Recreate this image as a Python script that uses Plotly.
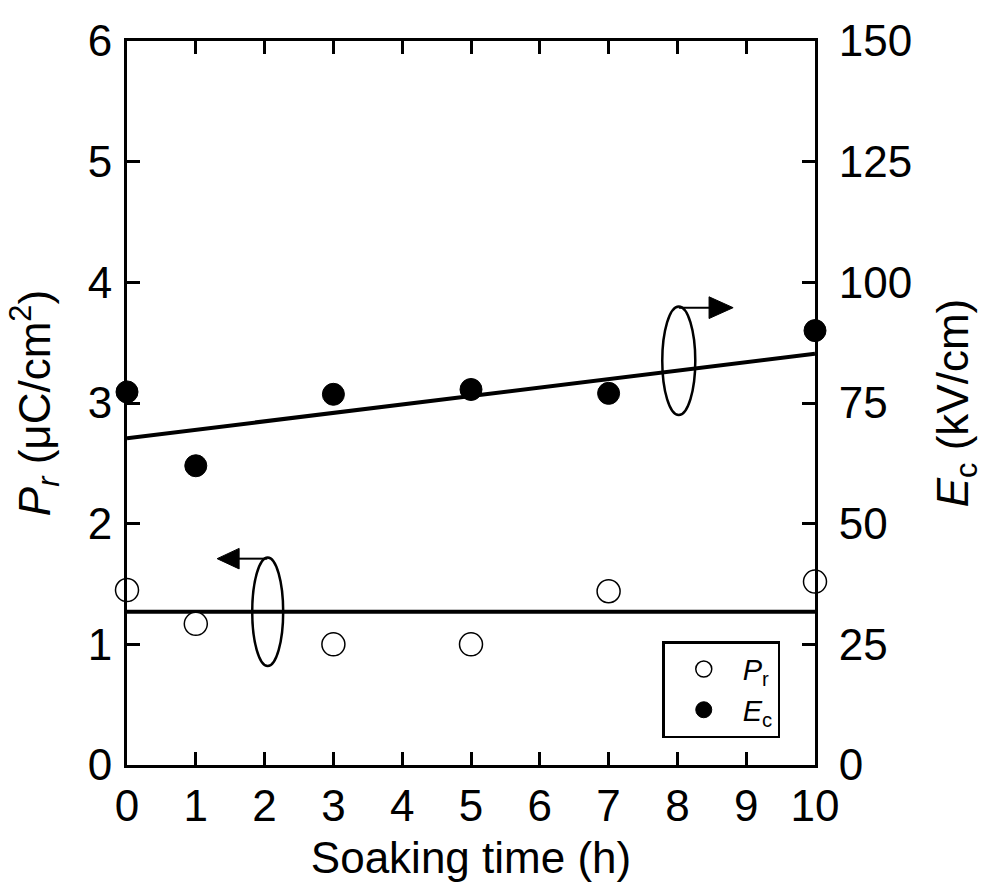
import plotly.graph_objects as go

# Data
soak_time = [0, 1, 3, 5, 7, 10]
pr_values = [1.45, 1.17, 1.00, 1.00, 1.44, 1.52]      # µC/cm2 (left axis)
ec_values = [77.3, 62.0, 76.8, 77.8, 77.0, 90.0]      # kV/cm (right axis)

fit_x = [0, 10]
pr_fit = [1.27, 1.27]
ec_fit = [67.7, 85.2]

x_ticks = list(range(0, 11))
left_ticks = [0, 1, 2, 3, 4, 5, 6]
right_ticks = [0, 25, 50, 75, 100, 125, 150]

FONT = "Liberation Sans, Arial, sans-serif"
FS = 44

fig = go.Figure()

fig.add_trace(go.Scatter(x=fit_x, y=pr_fit, mode="lines",
                         line=dict(color="black", width=4),
                         showlegend=False, yaxis="y", hoverinfo="skip"))
fig.add_trace(go.Scatter(x=fit_x, y=ec_fit, mode="lines",
                         line=dict(color="black", width=4),
                         showlegend=False, yaxis="y2", hoverinfo="skip"))

fig.add_trace(go.Scatter(x=soak_time, y=pr_values, mode="markers",
                         name="<i>P</i><sub>r</sub>",
                         marker=dict(symbol="circle", size=23, color="white",
                                     line=dict(color="black", width=1.5)),
                         cliponaxis=False, yaxis="y"))
fig.add_trace(go.Scatter(x=soak_time, y=ec_values, mode="markers",
                         name="<i>E</i><sub>c</sub>",
                         marker=dict(symbol="circle", size=22, color="black",
                                     line=dict(color="black", width=1)),
                         cliponaxis=False, yaxis="y2"))

shapes = []
# upper ellipse + arrow to the right
shapes.append(dict(type="circle", xref="x", yref="y", x0=7.78, x1=8.26, y0=2.90, y1=3.80,
                   line=dict(color="black", width=2.5)))
shapes.append(dict(type="line", xref="x", yref="y", x0=8.02, x1=8.48, y0=3.79, y1=3.79,
                   line=dict(color="black", width=2)))
shapes.append(dict(type="path", xref="x", yref="y",
                   path="M 8.46 3.88 L 8.81 3.79 L 8.46 3.70 Z",
                   fillcolor="black", line=dict(color="black", width=1)))
# lower ellipse + arrow to the left
shapes.append(dict(type="circle", xref="x", yref="y", x0=1.82, x1=2.27, y0=0.82, y1=1.72,
                   line=dict(color="black", width=2.5)))
shapes.append(dict(type="line", xref="x", yref="y", x0=2.04, x1=1.61, y0=1.71, y1=1.71,
                   line=dict(color="black", width=2)))
shapes.append(dict(type="path", xref="x", yref="y",
                   path="M 1.63 1.795 L 1.31 1.71 L 1.63 1.625 Z",
                   fillcolor="black", line=dict(color="black", width=1)))

fig.update_layout(
    width=984, height=890,
    margin=dict(l=127, r=169, t=41, b=125),
    paper_bgcolor="white", plot_bgcolor="white",
    font=dict(family=FONT, size=FS, color="black"),
    shapes=shapes,
    showlegend=True,
    legend=dict(x=0.778, y=0.171, xanchor="left", yanchor="top",
                bordercolor="black", borderwidth=2.5, bgcolor="white",
                font=dict(family=FONT, size=29, color="black"),
                itemsizing="trace", itemwidth=68, tracegroupgap=0),
    xaxis=dict(range=[0, 10], tickvals=x_ticks, ticktext=[str(v) for v in x_ticks],
               ticks="inside", ticklen=13, tickwidth=3, tickcolor="black",
               showline=True, linewidth=3, linecolor="black", mirror="ticks",
               showgrid=False, zeroline=False,
               tickfont=dict(family=FONT, size=FS),
               title=dict(text="Soaking time (h)", font=dict(family=FONT, size=FS), standoff=14)),
    yaxis=dict(range=[0, 6], tickvals=left_ticks, ticktext=[str(v) for v in left_ticks],
               ticks="inside", ticklen=13, tickwidth=3, tickcolor="black",
               showline=True, linewidth=3, linecolor="black", mirror=False,
               showgrid=False, zeroline=False,
               tickfont=dict(family=FONT, size=FS), ticklabelstandoff=3,
               title=dict(text="<i>P<sub>r</sub></i> (μC/cm<sup>2</sup>)",
                          font=dict(family=FONT, size=FS), standoff=24)),
    yaxis2=dict(range=[0, 150], tickvals=right_ticks, ticktext=[str(v) for v in right_ticks],
                overlaying="y", side="right", anchor="x",
                ticks="inside", ticklen=13, tickwidth=3, tickcolor="black",
                showline=True, linewidth=3, linecolor="black",
                showgrid=False, zeroline=False,
                tickfont=dict(family=FONT, size=FS), ticklabelstandoff=12,
                title=dict(text="<i>E</i><sub>c</sub> (kV/cm)",
                           font=dict(family=FONT, size=FS), standoff=26)),
)

fig.write_html("out.html")
